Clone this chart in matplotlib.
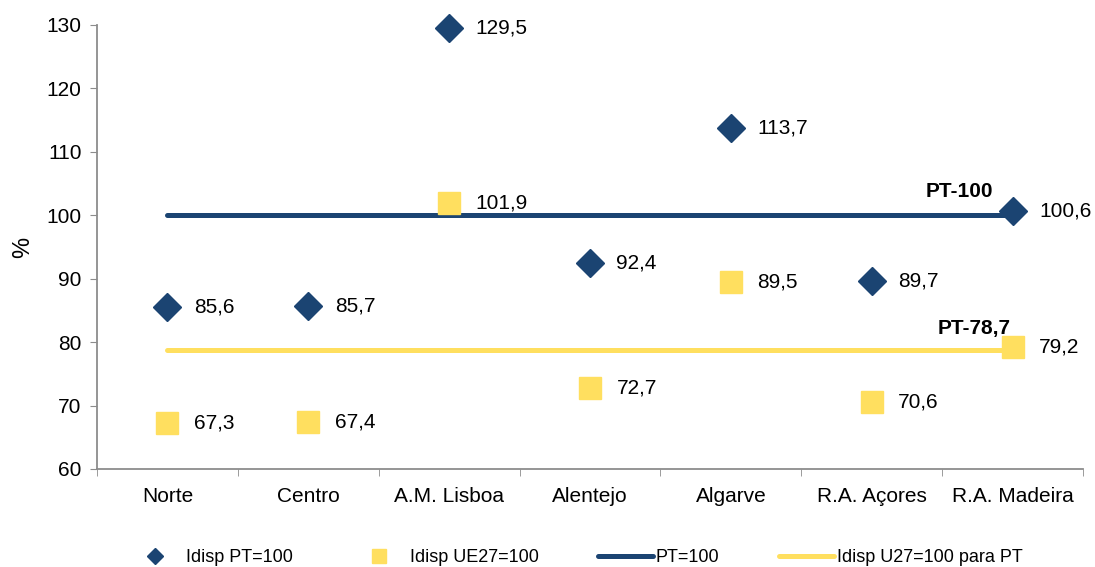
import matplotlib.pyplot as plt
import numpy as np

plt.rcParams['font.family'] = ['Liberation Sans', 'DejaVu Sans']

# data
regions = ['Norte', 'Centro', 'A.M. Lisboa', 'Alentejo', 'Algarve', 'R.A. Açores', 'R.A. Madeira']
idisp_pt = [85.6, 85.7, 129.5, 92.4, 113.7, 89.7, 100.6]
idisp_ue = [67.3, 67.4, 101.9, 72.7, 89.5, 70.6, 79.2]
pt_ref = 100
ue_ref = 78.7

navy = '#1B4472'
yellow = '#FFDF5F'
grey = '#8C8C8C'

fig = plt.figure(figsize=(10.95, 5.67), dpi=100)
ax = fig.add_axes([97 / 1095, 1 - 469 / 567, (1083 - 97) / 1095, (469 - 25) / 567])

x = np.arange(len(regions))

# reference lines
ax.plot([x[0], x[-1]], [pt_ref, pt_ref], color=navy, lw=3.6, solid_capstyle='round',
        label='PT=100', zorder=2)
ax.plot([x[0], x[-1]], [ue_ref, ue_ref], color=yellow, lw=3.6, solid_capstyle='round',
        label='Idisp U27=100 para PT', zorder=2)

# points
ax.plot(x, idisp_pt, 'D', color=navy, ms=14, ls='none', label='Idisp PT=100', zorder=3,
        clip_on=False)
ax.plot(x, idisp_ue, 's', color=yellow, ms=16, ls='none', label='Idisp UE27=100', zorder=3,
        clip_on=False)

for xi, v in zip(x, idisp_pt):
    ax.annotate(f'{v:.1f}'.replace('.', ','), (xi, v), xytext=(19, 0), textcoords='offset points',
                va='center', ha='left', fontsize=15)
for xi, v in zip(x, idisp_ue):
    ax.annotate(f'{v:.1f}'.replace('.', ','), (xi, v), xytext=(19, 0), textcoords='offset points',
                va='center', ha='left', fontsize=15)

ax.text(5.62, 103.7, 'PT-100', ha='center', va='center', fontsize=15, fontweight='bold')
ax.text(5.73, 82.2, 'PT-78,7', ha='center', va='center', fontsize=15, fontweight='bold')

ax.set_xlim(-0.5, 6.5)
ax.set_ylim(60, 130)
ax.set_yticks(np.arange(60, 131, 10))
ax.set_xticks(x)
ax.set_xticklabels(regions)
ax.set_xticks(np.arange(-0.5, 6.6, 1), minor=True)
ax.tick_params(axis='x', which='major', length=0, pad=13, labelsize=15)
ax.tick_params(axis='x', which='minor', length=5, color=grey, direction='out')
ax.tick_params(axis='y', length=5, color=grey, labelsize=15, pad=6)
ax.set_ylabel('%', fontsize=17, labelpad=9)

for s in ['top', 'right']:
    ax.spines[s].set_visible(False)
for s in ['left', 'bottom']:
    ax.spines[s].set_color(grey)
    ax.spines[s].set_linewidth(1.3)

handles, labels = ax.get_legend_handles_labels()
order = [2, 3, 0, 1]
leg = fig.legend([handles[i] for i in order], [labels[i] for i in order],
                 loc='center', bbox_to_anchor=(575 / 1095, 1 - 558 / 567), ncol=4, frameon=False,
                 fontsize=13, columnspacing=3.27, handlelength=3.05, handletextpad=0.17,
                 markerscale=0.6)

plt.savefig('out.png', dpi=100)
